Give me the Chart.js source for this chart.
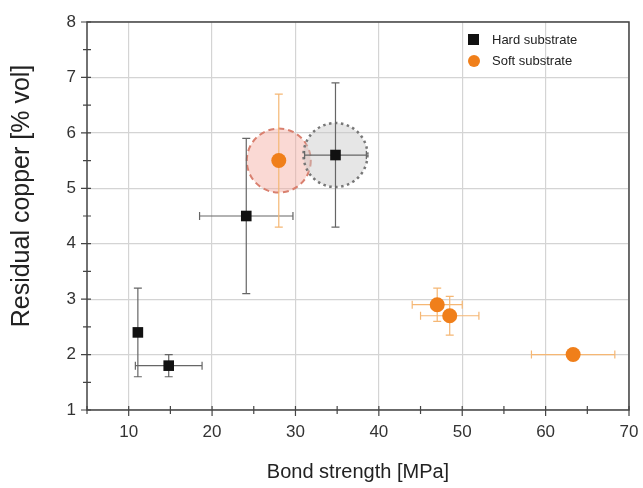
<!DOCTYPE html>
<html><head><meta charset="utf-8">
<script src="https://cdn.jsdelivr.net/npm/chart.js@4/dist/chart.umd.min.js"></script>
<style>html,body{margin:0;padding:0;background:#fff}#wrap{width:643px;height:488px}</style>
</head><body><div id="wrap"><canvas id="c" width="643" height="488"></canvas></div>
<script>
const seriesNames = ["Hard substrate", "Soft substrate"];
const hardX = [11.1, 14.8, 24.1, 34.8];
const hardY = [2.4, 1.8, 4.5, 5.6];
const hardXErr = [0.4, 4.0, 5.6, 3.7];
const hardYErr = [0.8, 0.2, 1.4, 1.3];
const softX = [28.0, 47.0, 48.5, 63.3];
const softY = [5.5, 2.9, 2.7, 2.0];
const softXErr = [0.0, 3.0, 3.5, 5.0];
const softYErr = [1.2, 0.3, 0.35, 0.1];
const xTicks = [10, 20, 30, 40, 50, 60, 70];
const yTicks = [1, 2, 3, 4, 5, 6, 7, 8];
const xTitle = "Bond strength [MPa]";
const yTitle = "Residual copper [% vol]";

const FONT = "'Liberation Sans', Arial, sans-serif";
const hardColor = "#111111", softColor = "#f07f1a";

const mk = (xs, ys) => xs.map((x, i) => ({x, y: ys[i]}));

const errPlugin = {
  id: 'extras',
  beforeDatasetsDraw(chart) {
    const {ctx, scales: {x, y}, chartArea: a} = chart;
    ctx.save();
    const circ = (cx, cy, fill, stroke, dash, lw) => {
      ctx.beginPath();
      ctx.arc(x.getPixelForValue(cx), y.getPixelForValue(cy), 32, 0, Math.PI * 2);
      ctx.fillStyle = fill; ctx.fill();
      ctx.setLineDash(dash); ctx.lineWidth = lw; ctx.strokeStyle = stroke; ctx.stroke();
      ctx.setLineDash([]);
    };
    circ(softX[0], softY[0], 'rgba(245,170,160,0.45)', '#d9806f', [6, 4], 2);
    circ(hardX[3], hardY[3], 'rgba(200,200,200,0.45)', '#777', [2.5, 3.5], 2.5);
    const bars = (xs, ys, xe, ye, col) => {
      ctx.strokeStyle = col; ctx.lineWidth = 1.2;
      xs.forEach((xv, i) => {
        const px = x.getPixelForValue(xv), py = y.getPixelForValue(ys[i]);
        if (ye[i] > 0) {
          const t = y.getPixelForValue(ys[i] + ye[i]), b = y.getPixelForValue(ys[i] - ye[i]);
          ctx.beginPath();
          ctx.moveTo(px, t); ctx.lineTo(px, b);
          ctx.moveTo(px - 4, t); ctx.lineTo(px + 4, t);
          ctx.moveTo(px - 4, b); ctx.lineTo(px + 4, b);
          ctx.stroke();
        }
        if (xe[i] > 0) {
          const l = x.getPixelForValue(xv - xe[i]), r = x.getPixelForValue(xv + xe[i]);
          ctx.beginPath();
          ctx.moveTo(l, py); ctx.lineTo(r, py);
          ctx.moveTo(l, py - 4); ctx.lineTo(l, py + 4);
          ctx.moveTo(r, py - 4); ctx.lineTo(r, py + 4);
          ctx.stroke();
        }
      });
    };
    bars(hardX, hardY, hardXErr, hardYErr, '#666');
    bars(softX, softY, softXErr, softYErr, '#f5b774');
    ctx.restore();
  },
  afterDraw(chart) {
    const {ctx, scales: {x, y}, chartArea: a} = chart;
    ctx.save();
    ctx.strokeStyle = '#444'; ctx.lineWidth = 1.5;
    ctx.strokeRect(a.left, a.top, a.right - a.left, a.bottom - a.top);
    ctx.lineWidth = 1.2;
    ctx.beginPath();
    for (let v = 5; v <= 70; v += 5) {
      const px = x.getPixelForValue(v);
      const major = v % 10 === 0;
      ctx.moveTo(px, a.bottom - 4); ctx.lineTo(px, a.bottom + (major ? 6 : 4));
    }
    for (let v = 1; v <= 8.001; v += 0.5) {
      const py = y.getPixelForValue(v);
      const major = Math.abs(v - Math.round(v)) < 0.01;
      ctx.moveTo(a.left - (major ? 6 : 4), py); ctx.lineTo(a.left + 4, py);
    }
    ctx.stroke();
    ctx.save();
    ctx.translate(22, 196); ctx.rotate(-Math.PI / 2);
    ctx.fillStyle = '#222'; ctx.font = '25px ' + FONT;
    ctx.textAlign = 'center'; ctx.textBaseline = 'middle';
    ctx.fillText(yTitle, 0, 0);
    ctx.restore();
    ctx.fillStyle = hardColor;
    ctx.fillRect(468, 34, 11, 11);
    ctx.fillStyle = softColor;
    ctx.beginPath(); ctx.arc(474, 61, 6, 0, Math.PI * 2); ctx.fill();
    ctx.fillStyle = '#222'; ctx.font = '13px ' + FONT; ctx.textBaseline = 'middle';
    ctx.fillText(seriesNames[0], 492, 40);
    ctx.fillText(seriesNames[1], 492, 61);
    ctx.restore();
  }
};

new Chart(document.getElementById('c'), {
  type: 'scatter',
  data: {
    datasets: [
      {label: seriesNames[0], data: mk(hardX, hardY), pointStyle: 'rect', radius: 7.5, hoverRadius: 7.5,
       backgroundColor: hardColor, borderColor: hardColor, borderWidth: 0},
      {label: seriesNames[1], data: mk(softX, softY), pointStyle: 'circle', radius: 7.5, hoverRadius: 7.5,
       backgroundColor: softColor, borderColor: softColor, borderWidth: 0}
    ]
  },
  options: {
    responsive: false, animation: false, devicePixelRatio: 1,
    layout: {padding: {top: 22, right: 14, left: 0, bottom: 0}},
    plugins: {legend: {display: false}, tooltip: {enabled: false}},
    scales: {
      x: {
        type: 'linear', min: 5, max: 70,
        afterBuildTicks: s => { s.ticks = xTicks.map(v => ({value: v})); },
        afterFit: s => { s.height = 78; s.paddingLeft = 0; s.paddingRight = 0; },
        grid: {color: '#d4d4d4', lineWidth: 1.2, drawTicks: false},
        border: {display: false},
        ticks: {padding: 12, color: '#333', font: {family: FONT, size: 17}},
        title: {display: true, text: xTitle, color: '#222', font: {family: FONT, size: 20}, padding: {top: 6}}
      },
      y: {
        type: 'linear', min: 1, max: 8,
        afterBuildTicks: s => { s.ticks = yTicks.map(v => ({value: v})); },
        afterFit: s => { s.width = 87; s.paddingTop = 0; s.paddingBottom = 0; },
        grid: {color: '#d4d4d4', lineWidth: 1.2, drawTicks: false},
        border: {display: false},
        ticks: {padding: 11, color: '#333', font: {family: FONT, size: 17}},
        title: {display: false}
      }
    }
  },
  plugins: [errPlugin]
});
</script></body></html>
